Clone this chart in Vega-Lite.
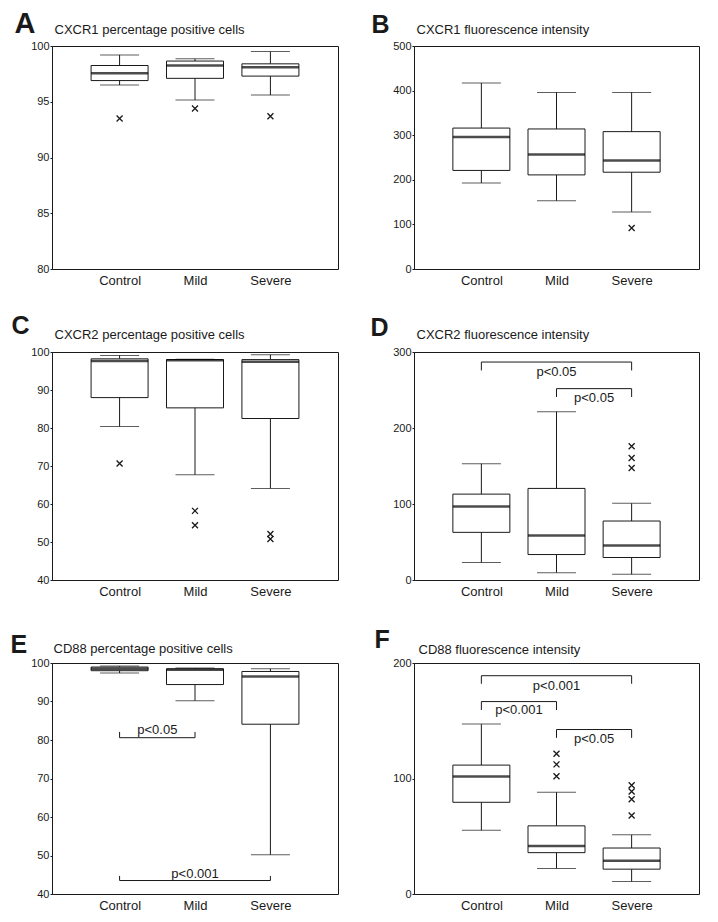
{
 "$schema": "https://vega.github.io/schema/vega-lite/v6.json",
 "background": "white",
 "padding": {"left": 9, "top": 8, "right": 5, "bottom": 5},
 "columns": 2,
 "spacing": {"row": 83, "column": 76},
 "bounds": "flush",
 "config": {
  "font": "Liberation Sans",
  "view": {"stroke": "#1a1a1a", "strokeWidth": 1},
  "axis": {"labelColor": "#1a1a1a", "titleColor": "#1a1a1a", "domainColor": "#1a1a1a", "tickColor": "#1a1a1a", "labelFont": "Liberation Sans", "titleFont": "Liberation Sans", "labelOverlap": false},
  "text": {"font": "Liberation Sans"}
 },
 "datasets": {
  "boxes": [
   {"panel":"A","group":"Control","lower":96.5,"q1":96.9,"median":97.55,"q3":98.25,"upper":99.2},
   {"panel":"A","group":"Mild","lower":95.15,"q1":97.1,"median":98.25,"q3":98.65,"upper":98.85},
   {"panel":"A","group":"Severe","lower":95.6,"q1":97.3,"median":98.1,"q3":98.4,"upper":99.5},
   {"panel":"B","group":"Control","lower":193,"q1":221,"median":296,"q3":316,"upper":417},
   {"panel":"B","group":"Mild","lower":153,"q1":211,"median":257,"q3":314,"upper":396},
   {"panel":"B","group":"Severe","lower":128,"q1":217,"median":243,"q3":308,"upper":396},
   {"panel":"C","group":"Control","lower":80.4,"q1":88.0,"median":97.6,"q3":98.2,"upper":99.1},
   {"panel":"C","group":"Mild","lower":67.7,"q1":85.3,"median":97.85,"q3":98.0,"upper":98.1},
   {"panel":"C","group":"Severe","lower":64.1,"q1":82.5,"median":97.45,"q3":98.0,"upper":99.3},
   {"panel":"D","group":"Control","lower":23,"q1":62.7,"median":96.7,"q3":113,"upper":153},
   {"panel":"D","group":"Mild","lower":9.7,"q1":33.5,"median":58.7,"q3":120.5,"upper":221.5},
   {"panel":"D","group":"Severe","lower":7.5,"q1":29.6,"median":45.4,"q3":77.6,"upper":101},
   {"panel":"E","group":"Control","lower":97.4,"q1":98.0,"median":98.5,"q3":98.95,"upper":99.2},
   {"panel":"E","group":"Mild","lower":90.2,"q1":94.4,"median":98.25,"q3":98.5,"upper":98.7},
   {"panel":"E","group":"Severe","lower":50.2,"q1":84.1,"median":96.5,"q3":97.8,"upper":98.5},
   {"panel":"F","group":"Control","lower":55.2,"q1":79.4,"median":101.7,"q3":111.6,"upper":147.1},
   {"panel":"F","group":"Mild","lower":22.1,"q1":35.8,"median":41.6,"q3":59,"upper":88.1},
   {"panel":"F","group":"Severe","lower":10.8,"q1":21.5,"median":28.8,"q3":39.8,"upper":51.2}
  ],
  "outliers": [
   {"panel":"A","group":"Control","value":93.5},
   {"panel":"A","group":"Mild","value":94.4},
   {"panel":"A","group":"Severe","value":93.7},
   {"panel":"B","group":"Severe","value":92},
   {"panel":"C","group":"Control","value":70.65},
   {"panel":"C","group":"Mild","value":58.2},
   {"panel":"C","group":"Mild","value":54.4},
   {"panel":"C","group":"Severe","value":52.1},
   {"panel":"C","group":"Severe","value":50.8},
   {"panel":"D","group":"Severe","value":176},
   {"panel":"D","group":"Severe","value":160.5},
   {"panel":"D","group":"Severe","value":147.3},
   {"panel":"F","group":"Mild","value":121.5},
   {"panel":"F","group":"Mild","value":112.2},
   {"panel":"F","group":"Mild","value":102},
   {"panel":"F","group":"Severe","value":94.2},
   {"panel":"F","group":"Severe","value":88.7},
   {"panel":"F","group":"Severe","value":82},
   {"panel":"F","group":"Severe","value":68}
  ],
  "brackets": [
   {"panel":"D","from":"Control","to":"Severe","line":286.8,"end":275.7,"label":"p<0.05","label_y":268},
   {"panel":"D","from":"Mild","to":"Severe","line":251.8,"end":240.8,"label":"p<0.05","label_y":234},
   {"panel":"E","from":"Control","to":"Mild","line":80.6,"end":82.1,"label":"p<0.05","label_y":81.6},
   {"panel":"E","from":"Control","to":"Severe","line":43.5,"end":44.7,"label":"p<0.001","label_y":44.2},
   {"panel":"F","from":"Control","to":"Severe","line":189,"end":182,"label":"p<0.001","label_y":176.7},
   {"panel":"F","from":"Control","to":"Mild","line":166.6,"end":159.3,"label":"p<0.001","label_y":155.8},
   {"panel":"F","from":"Mild","to":"Severe","line":142.4,"end":135.2,"label":"p<0.05","label_y":130.8}
  ]
 },
 "concat": [
  {
   "width": 286, "height": 223,
   "layer": [
    {
     "data": {"name": "boxes"},
     "transform": [{"filter": "datum.panel === 'A'"}, {"calculate": "indexof(['Control','Mild','Severe'], datum.group) + 1", "as": "xi"}],
     "encoding": {"x": {"field": "xi", "type": "quantitative", "scale": {"domain": [0.17, 3.83]}, "axis": {"title": "CXCR1 percentage positive cells", "titleX": 2, "titleY": -236, "titleAlign": "left", "titleAnchor": "start", "titleBaseline": "alphabetic", "titleFontSize": 13, "titleFontWeight": "normal", "values": [1, 2, 3], "labelExpr": "datum.value === 1 ? 'Control' : datum.value === 2 ? 'Mild' : 'Severe'", "ticks": false, "domain": false, "grid": false, "labelFontSize": 13, "labelPadding": 5}}},
     "layer": [
      {"mark": {"type": "rule", "color": "#1a1a1a", "strokeWidth": 1}, "encoding": {"y": {"field": "lower", "type": "quantitative", "scale": {"domain": [80, 100], "nice": false, "zero": false}, "axis": {"title": "A", "titleAngle": 0, "titleX": -38, "titleY": -14, "titleAlign": "left", "titleBaseline": "alphabetic", "titleFontSize": 29, "titleFontWeight": "bold", "values": [80, 85, 90, 95, 100], "tickCount": 5, "labelOverlap": false, "grid": false, "tickSize": 2, "labelPadding": 1, "labelFontSize": 11}}, "y2": {"field": "upper"}}},
      {"mark": {"type": "bar", "size": 57, "fill": "white", "stroke": "#1a1a1a", "strokeWidth": 1}, "encoding": {"y": {"field": "q1", "type": "quantitative", "scale": {"domain": [80, 100], "nice": false, "zero": false}}, "y2": {"field": "q3"}}},
      {"mark": {"type": "tick", "orient": "horizontal", "size": 39, "thickness": 1, "color": "#1a1a1a"}, "encoding": {"y": {"field": "lower", "type": "quantitative", "scale": {"domain": [80, 100], "nice": false, "zero": false}}}},
      {"mark": {"type": "tick", "orient": "horizontal", "size": 39, "thickness": 1, "color": "#1a1a1a"}, "encoding": {"y": {"field": "upper", "type": "quantitative", "scale": {"domain": [80, 100], "nice": false, "zero": false}}}},
      {"mark": {"type": "tick", "orient": "horizontal", "size": 57, "thickness": 2.5, "color": "#000000"}, "encoding": {"y": {"field": "median", "type": "quantitative", "scale": {"domain": [80, 100], "nice": false, "zero": false}}}}
     ]
    },
    {
     "data": {"name": "outliers"},
     "transform": [{"filter": "datum.panel === 'A'"}, {"calculate": "indexof(['Control','Mild','Severe'], datum.group) + 1", "as": "xi"}],
     "mark": {"type": "point", "shape": "M-1,-1L1,1M-1,1L1,-1", "size": 36, "filled": false, "color": "#1a1a1a", "strokeWidth": 1.3, "opacity": 1},
     "encoding": {"x": {"field": "xi", "type": "quantitative", "scale": {"domain": [0.17, 3.83]}}, "y": {"field": "value", "type": "quantitative", "scale": {"domain": [80, 100], "nice": false, "zero": false}}}
    }
   ]
  },
  {
   "width": 285, "height": 223,
   "layer": [
    {
     "data": {"name": "boxes"},
     "transform": [{"filter": "datum.panel === 'B'"}, {"calculate": "indexof(['Control','Mild','Severe'], datum.group) + 1", "as": "xi"}],
     "encoding": {"x": {"field": "xi", "type": "quantitative", "scale": {"domain": [0.17, 3.83]}, "axis": {"title": "CXCR1 fluorescence intensity", "titleX": 2, "titleY": -236, "titleAlign": "left", "titleAnchor": "start", "titleBaseline": "alphabetic", "titleFontSize": 13, "titleFontWeight": "normal", "values": [1, 2, 3], "labelExpr": "datum.value === 1 ? 'Control' : datum.value === 2 ? 'Mild' : 'Severe'", "ticks": false, "domain": false, "grid": false, "labelFontSize": 13, "labelPadding": 5}}},
     "layer": [
      {"mark": {"type": "rule", "color": "#1a1a1a", "strokeWidth": 1}, "encoding": {"y": {"field": "lower", "type": "quantitative", "scale": {"domain": [0, 500], "nice": false, "zero": false}, "axis": {"title": "B", "titleAngle": 0, "titleX": -43, "titleY": -14, "titleAlign": "left", "titleBaseline": "alphabetic", "titleFontSize": 25, "titleFontWeight": "bold", "values": [0, 100, 200, 300, 400, 500], "tickCount": 6, "labelOverlap": false, "grid": false, "tickSize": 2, "labelPadding": 1, "labelFontSize": 11}}, "y2": {"field": "upper"}}},
      {"mark": {"type": "bar", "size": 57, "fill": "white", "stroke": "#1a1a1a", "strokeWidth": 1}, "encoding": {"y": {"field": "q1", "type": "quantitative", "scale": {"domain": [0, 500], "nice": false, "zero": false}}, "y2": {"field": "q3"}}},
      {"mark": {"type": "tick", "orient": "horizontal", "size": 39, "thickness": 1, "color": "#1a1a1a"}, "encoding": {"y": {"field": "lower", "type": "quantitative", "scale": {"domain": [0, 500], "nice": false, "zero": false}}}},
      {"mark": {"type": "tick", "orient": "horizontal", "size": 39, "thickness": 1, "color": "#1a1a1a"}, "encoding": {"y": {"field": "upper", "type": "quantitative", "scale": {"domain": [0, 500], "nice": false, "zero": false}}}},
      {"mark": {"type": "tick", "orient": "horizontal", "size": 57, "thickness": 2.5, "color": "#000000"}, "encoding": {"y": {"field": "median", "type": "quantitative", "scale": {"domain": [0, 500], "nice": false, "zero": false}}}}
     ]
    },
    {
     "data": {"name": "outliers"},
     "transform": [{"filter": "datum.panel === 'B'"}, {"calculate": "indexof(['Control','Mild','Severe'], datum.group) + 1", "as": "xi"}],
     "mark": {"type": "point", "shape": "M-1,-1L1,1M-1,1L1,-1", "size": 36, "filled": false, "color": "#1a1a1a", "strokeWidth": 1.3, "opacity": 1},
     "encoding": {"x": {"field": "xi", "type": "quantitative", "scale": {"domain": [0.17, 3.83]}}, "y": {"field": "value", "type": "quantitative", "scale": {"domain": [0, 500], "nice": false, "zero": false}}}
    }
   ]
  },
  {
   "width": 286, "height": 228,
   "layer": [
    {
     "data": {"name": "boxes"},
     "transform": [{"filter": "datum.panel === 'C'"}, {"calculate": "indexof(['Control','Mild','Severe'], datum.group) + 1", "as": "xi"}],
     "encoding": {"x": {"field": "xi", "type": "quantitative", "scale": {"domain": [0.17, 3.83]}, "axis": {"title": "CXCR2 percentage positive cells", "titleX": 2, "titleY": -242, "titleAlign": "left", "titleAnchor": "start", "titleBaseline": "alphabetic", "titleFontSize": 13, "titleFontWeight": "normal", "values": [1, 2, 3], "labelExpr": "datum.value === 1 ? 'Control' : datum.value === 2 ? 'Mild' : 'Severe'", "ticks": false, "domain": false, "grid": false, "labelFontSize": 13, "labelPadding": 5}}},
     "layer": [
      {"mark": {"type": "rule", "color": "#1a1a1a", "strokeWidth": 1}, "encoding": {"y": {"field": "lower", "type": "quantitative", "scale": {"domain": [40, 100], "nice": false, "zero": false}, "axis": {"title": "C", "titleAngle": 0, "titleX": -41, "titleY": -19, "titleAlign": "left", "titleBaseline": "alphabetic", "titleFontSize": 25, "titleFontWeight": "bold", "values": [40, 50, 60, 70, 80, 90, 100], "tickCount": 7, "labelOverlap": false, "grid": false, "tickSize": 2, "labelPadding": 1, "labelFontSize": 11}}, "y2": {"field": "upper"}}},
      {"mark": {"type": "bar", "size": 57, "fill": "white", "stroke": "#1a1a1a", "strokeWidth": 1}, "encoding": {"y": {"field": "q1", "type": "quantitative", "scale": {"domain": [40, 100], "nice": false, "zero": false}}, "y2": {"field": "q3"}}},
      {"mark": {"type": "tick", "orient": "horizontal", "size": 39, "thickness": 1, "color": "#1a1a1a"}, "encoding": {"y": {"field": "lower", "type": "quantitative", "scale": {"domain": [40, 100], "nice": false, "zero": false}}}},
      {"mark": {"type": "tick", "orient": "horizontal", "size": 39, "thickness": 1, "color": "#1a1a1a"}, "encoding": {"y": {"field": "upper", "type": "quantitative", "scale": {"domain": [40, 100], "nice": false, "zero": false}}}},
      {"mark": {"type": "tick", "orient": "horizontal", "size": 57, "thickness": 2.5, "color": "#000000"}, "encoding": {"y": {"field": "median", "type": "quantitative", "scale": {"domain": [40, 100], "nice": false, "zero": false}}}}
     ]
    },
    {
     "data": {"name": "outliers"},
     "transform": [{"filter": "datum.panel === 'C'"}, {"calculate": "indexof(['Control','Mild','Severe'], datum.group) + 1", "as": "xi"}],
     "mark": {"type": "point", "shape": "M-1,-1L1,1M-1,1L1,-1", "size": 36, "filled": false, "color": "#1a1a1a", "strokeWidth": 1.3, "opacity": 1},
     "encoding": {"x": {"field": "xi", "type": "quantitative", "scale": {"domain": [0.17, 3.83]}}, "y": {"field": "value", "type": "quantitative", "scale": {"domain": [40, 100], "nice": false, "zero": false}}}
    }
   ]
  },
  {
   "width": 285, "height": 228,
   "layer": [
    {
     "data": {"name": "boxes"},
     "transform": [{"filter": "datum.panel === 'D'"}, {"calculate": "indexof(['Control','Mild','Severe'], datum.group) + 1", "as": "xi"}],
     "encoding": {"x": {"field": "xi", "type": "quantitative", "scale": {"domain": [0.17, 3.83]}, "axis": {"title": "CXCR2 fluorescence intensity", "titleX": 2, "titleY": -242, "titleAlign": "left", "titleAnchor": "start", "titleBaseline": "alphabetic", "titleFontSize": 13, "titleFontWeight": "normal", "values": [1, 2, 3], "labelExpr": "datum.value === 1 ? 'Control' : datum.value === 2 ? 'Mild' : 'Severe'", "ticks": false, "domain": false, "grid": false, "labelFontSize": 13, "labelPadding": 5}}},
     "layer": [
      {"mark": {"type": "rule", "color": "#1a1a1a", "strokeWidth": 1}, "encoding": {"y": {"field": "lower", "type": "quantitative", "scale": {"domain": [0, 300], "nice": false, "zero": false}, "axis": {"title": "D", "titleAngle": 0, "titleX": -44, "titleY": -17, "titleAlign": "left", "titleBaseline": "alphabetic", "titleFontSize": 25, "titleFontWeight": "bold", "values": [0, 100, 200, 300], "tickCount": 4, "labelOverlap": false, "grid": false, "tickSize": 2, "labelPadding": 1, "labelFontSize": 11}}, "y2": {"field": "upper"}}},
      {"mark": {"type": "bar", "size": 57, "fill": "white", "stroke": "#1a1a1a", "strokeWidth": 1}, "encoding": {"y": {"field": "q1", "type": "quantitative", "scale": {"domain": [0, 300], "nice": false, "zero": false}}, "y2": {"field": "q3"}}},
      {"mark": {"type": "tick", "orient": "horizontal", "size": 39, "thickness": 1, "color": "#1a1a1a"}, "encoding": {"y": {"field": "lower", "type": "quantitative", "scale": {"domain": [0, 300], "nice": false, "zero": false}}}},
      {"mark": {"type": "tick", "orient": "horizontal", "size": 39, "thickness": 1, "color": "#1a1a1a"}, "encoding": {"y": {"field": "upper", "type": "quantitative", "scale": {"domain": [0, 300], "nice": false, "zero": false}}}},
      {"mark": {"type": "tick", "orient": "horizontal", "size": 57, "thickness": 2.5, "color": "#000000"}, "encoding": {"y": {"field": "median", "type": "quantitative", "scale": {"domain": [0, 300], "nice": false, "zero": false}}}}
     ]
    },
    {
     "data": {"name": "outliers"},
     "transform": [{"filter": "datum.panel === 'D'"}, {"calculate": "indexof(['Control','Mild','Severe'], datum.group) + 1", "as": "xi"}],
     "mark": {"type": "point", "shape": "M-1,-1L1,1M-1,1L1,-1", "size": 36, "filled": false, "color": "#1a1a1a", "strokeWidth": 1.3, "opacity": 1},
     "encoding": {"x": {"field": "xi", "type": "quantitative", "scale": {"domain": [0.17, 3.83]}}, "y": {"field": "value", "type": "quantitative", "scale": {"domain": [0, 300], "nice": false, "zero": false}}}
    },
    {
     "data": {"name": "brackets"},
     "transform": [{"filter": "datum.panel === 'D'"}, {"calculate": "indexof(['Control','Mild','Severe'], datum.from) + 1", "as": "xf"}, {"calculate": "indexof(['Control','Mild','Severe'], datum.to) + 1", "as": "xt"}, {"calculate": "(datum.xf + datum.xt) / 2", "as": "xm"}],
     "layer": [
      {"mark": {"type": "rule", "color": "#1a1a1a", "strokeWidth": 1}, "encoding": {"x": {"field": "xf", "type": "quantitative", "scale": {"domain": [0.17, 3.83]}}, "x2": {"field": "xt"}, "y": {"field": "line", "type": "quantitative", "scale": {"domain": [0, 300], "nice": false, "zero": false}}}},
      {"mark": {"type": "rule", "color": "#1a1a1a", "strokeWidth": 1}, "encoding": {"x": {"field": "xf", "type": "quantitative", "scale": {"domain": [0.17, 3.83]}}, "y": {"field": "line", "type": "quantitative", "scale": {"domain": [0, 300], "nice": false, "zero": false}}, "y2": {"field": "end"}}},
      {"mark": {"type": "rule", "color": "#1a1a1a", "strokeWidth": 1}, "encoding": {"x": {"field": "xt", "type": "quantitative", "scale": {"domain": [0.17, 3.83]}}, "y": {"field": "line", "type": "quantitative", "scale": {"domain": [0, 300], "nice": false, "zero": false}}, "y2": {"field": "end"}}},
      {"mark": {"type": "text", "fontSize": 13, "baseline": "alphabetic", "align": "center", "color": "#1a1a1a"}, "encoding": {"x": {"field": "xm", "type": "quantitative", "scale": {"domain": [0.17, 3.83]}}, "y": {"field": "label_y", "type": "quantitative", "scale": {"domain": [0, 300], "nice": false, "zero": false}}, "text": {"field": "label"}}}
     ]
    }
   ]
  },
  {
   "width": 286, "height": 231,
   "layer": [
    {
     "data": {"name": "boxes"},
     "transform": [{"filter": "datum.panel === 'E'"}, {"calculate": "indexof(['Control','Mild','Severe'], datum.group) + 1", "as": "xi"}],
     "encoding": {"x": {"field": "xi", "type": "quantitative", "scale": {"domain": [0.17, 3.83]}, "axis": {"title": "CD88 percentage positive cells", "titleX": 1, "titleY": -242, "titleAlign": "left", "titleAnchor": "start", "titleBaseline": "alphabetic", "titleFontSize": 13, "titleFontWeight": "normal", "values": [1, 2, 3], "labelExpr": "datum.value === 1 ? 'Control' : datum.value === 2 ? 'Mild' : 'Severe'", "ticks": false, "domain": false, "grid": false, "labelFontSize": 13, "labelPadding": 5}}},
     "layer": [
      {"mark": {"type": "rule", "color": "#1a1a1a", "strokeWidth": 1}, "encoding": {"y": {"field": "lower", "type": "quantitative", "scale": {"domain": [40, 100], "nice": false, "zero": false}, "axis": {"title": "E", "titleAngle": 0, "titleX": -42, "titleY": -11, "titleAlign": "left", "titleBaseline": "alphabetic", "titleFontSize": 25, "titleFontWeight": "bold", "values": [40, 50, 60, 70, 80, 90, 100], "tickCount": 7, "labelOverlap": false, "grid": false, "tickSize": 2, "labelPadding": 1, "labelFontSize": 11}}, "y2": {"field": "upper"}}},
      {"mark": {"type": "bar", "size": 57, "fill": "white", "stroke": "#1a1a1a", "strokeWidth": 1}, "encoding": {"y": {"field": "q1", "type": "quantitative", "scale": {"domain": [40, 100], "nice": false, "zero": false}}, "y2": {"field": "q3"}}},
      {"mark": {"type": "tick", "orient": "horizontal", "size": 39, "thickness": 1, "color": "#1a1a1a"}, "encoding": {"y": {"field": "lower", "type": "quantitative", "scale": {"domain": [40, 100], "nice": false, "zero": false}}}},
      {"mark": {"type": "tick", "orient": "horizontal", "size": 39, "thickness": 1, "color": "#1a1a1a"}, "encoding": {"y": {"field": "upper", "type": "quantitative", "scale": {"domain": [40, 100], "nice": false, "zero": false}}}},
      {"mark": {"type": "tick", "orient": "horizontal", "size": 57, "thickness": 2.5, "color": "#000000"}, "encoding": {"y": {"field": "median", "type": "quantitative", "scale": {"domain": [40, 100], "nice": false, "zero": false}}}}
     ]
    },
    {
     "data": {"name": "brackets"},
     "transform": [{"filter": "datum.panel === 'E'"}, {"calculate": "indexof(['Control','Mild','Severe'], datum.from) + 1", "as": "xf"}, {"calculate": "indexof(['Control','Mild','Severe'], datum.to) + 1", "as": "xt"}, {"calculate": "(datum.xf + datum.xt) / 2", "as": "xm"}],
     "layer": [
      {"mark": {"type": "rule", "color": "#1a1a1a", "strokeWidth": 1}, "encoding": {"x": {"field": "xf", "type": "quantitative", "scale": {"domain": [0.17, 3.83]}}, "x2": {"field": "xt"}, "y": {"field": "line", "type": "quantitative", "scale": {"domain": [40, 100], "nice": false, "zero": false}}}},
      {"mark": {"type": "rule", "color": "#1a1a1a", "strokeWidth": 1}, "encoding": {"x": {"field": "xf", "type": "quantitative", "scale": {"domain": [0.17, 3.83]}}, "y": {"field": "line", "type": "quantitative", "scale": {"domain": [40, 100], "nice": false, "zero": false}}, "y2": {"field": "end"}}},
      {"mark": {"type": "rule", "color": "#1a1a1a", "strokeWidth": 1}, "encoding": {"x": {"field": "xt", "type": "quantitative", "scale": {"domain": [0.17, 3.83]}}, "y": {"field": "line", "type": "quantitative", "scale": {"domain": [40, 100], "nice": false, "zero": false}}, "y2": {"field": "end"}}},
      {"mark": {"type": "text", "fontSize": 13, "baseline": "alphabetic", "align": "center", "color": "#1a1a1a"}, "encoding": {"x": {"field": "xm", "type": "quantitative", "scale": {"domain": [0.17, 3.83]}}, "y": {"field": "label_y", "type": "quantitative", "scale": {"domain": [40, 100], "nice": false, "zero": false}}, "text": {"field": "label"}}}
     ]
    }
   ]
  },
  {
   "width": 285, "height": 231,
   "layer": [
    {
     "data": {"name": "boxes"},
     "transform": [{"filter": "datum.panel === 'F'"}, {"calculate": "indexof(['Control','Mild','Severe'], datum.group) + 1", "as": "xi"}],
     "encoding": {"x": {"field": "xi", "type": "quantitative", "scale": {"domain": [0.17, 3.83]}, "axis": {"title": "CD88 fluorescence intensity", "titleX": 4, "titleY": -241, "titleAlign": "left", "titleAnchor": "start", "titleBaseline": "alphabetic", "titleFontSize": 13, "titleFontWeight": "normal", "values": [1, 2, 3], "labelExpr": "datum.value === 1 ? 'Control' : datum.value === 2 ? 'Mild' : 'Severe'", "ticks": false, "domain": false, "grid": false, "labelFontSize": 13, "labelPadding": 5}}},
     "layer": [
      {"mark": {"type": "rule", "color": "#1a1a1a", "strokeWidth": 1}, "encoding": {"y": {"field": "lower", "type": "quantitative", "scale": {"domain": [0, 200], "nice": false, "zero": false}, "axis": {"title": "F", "titleAngle": 0, "titleX": -40, "titleY": -16, "titleAlign": "left", "titleBaseline": "alphabetic", "titleFontSize": 25, "titleFontWeight": "bold", "values": [0, 100, 200], "tickCount": 3, "labelOverlap": false, "grid": false, "tickSize": 2, "labelPadding": 1, "labelFontSize": 11}}, "y2": {"field": "upper"}}},
      {"mark": {"type": "bar", "size": 57, "fill": "white", "stroke": "#1a1a1a", "strokeWidth": 1}, "encoding": {"y": {"field": "q1", "type": "quantitative", "scale": {"domain": [0, 200], "nice": false, "zero": false}}, "y2": {"field": "q3"}}},
      {"mark": {"type": "tick", "orient": "horizontal", "size": 39, "thickness": 1, "color": "#1a1a1a"}, "encoding": {"y": {"field": "lower", "type": "quantitative", "scale": {"domain": [0, 200], "nice": false, "zero": false}}}},
      {"mark": {"type": "tick", "orient": "horizontal", "size": 39, "thickness": 1, "color": "#1a1a1a"}, "encoding": {"y": {"field": "upper", "type": "quantitative", "scale": {"domain": [0, 200], "nice": false, "zero": false}}}},
      {"mark": {"type": "tick", "orient": "horizontal", "size": 57, "thickness": 2.5, "color": "#000000"}, "encoding": {"y": {"field": "median", "type": "quantitative", "scale": {"domain": [0, 200], "nice": false, "zero": false}}}}
     ]
    },
    {
     "data": {"name": "outliers"},
     "transform": [{"filter": "datum.panel === 'F'"}, {"calculate": "indexof(['Control','Mild','Severe'], datum.group) + 1", "as": "xi"}],
     "mark": {"type": "point", "shape": "M-1,-1L1,1M-1,1L1,-1", "size": 36, "filled": false, "color": "#1a1a1a", "strokeWidth": 1.3, "opacity": 1},
     "encoding": {"x": {"field": "xi", "type": "quantitative", "scale": {"domain": [0.17, 3.83]}}, "y": {"field": "value", "type": "quantitative", "scale": {"domain": [0, 200], "nice": false, "zero": false}}}
    },
    {
     "data": {"name": "brackets"},
     "transform": [{"filter": "datum.panel === 'F'"}, {"calculate": "indexof(['Control','Mild','Severe'], datum.from) + 1", "as": "xf"}, {"calculate": "indexof(['Control','Mild','Severe'], datum.to) + 1", "as": "xt"}, {"calculate": "(datum.xf + datum.xt) / 2", "as": "xm"}],
     "layer": [
      {"mark": {"type": "rule", "color": "#1a1a1a", "strokeWidth": 1}, "encoding": {"x": {"field": "xf", "type": "quantitative", "scale": {"domain": [0.17, 3.83]}}, "x2": {"field": "xt"}, "y": {"field": "line", "type": "quantitative", "scale": {"domain": [0, 200], "nice": false, "zero": false}}}},
      {"mark": {"type": "rule", "color": "#1a1a1a", "strokeWidth": 1}, "encoding": {"x": {"field": "xf", "type": "quantitative", "scale": {"domain": [0.17, 3.83]}}, "y": {"field": "line", "type": "quantitative", "scale": {"domain": [0, 200], "nice": false, "zero": false}}, "y2": {"field": "end"}}},
      {"mark": {"type": "rule", "color": "#1a1a1a", "strokeWidth": 1}, "encoding": {"x": {"field": "xt", "type": "quantitative", "scale": {"domain": [0.17, 3.83]}}, "y": {"field": "line", "type": "quantitative", "scale": {"domain": [0, 200], "nice": false, "zero": false}}, "y2": {"field": "end"}}},
      {"mark": {"type": "text", "fontSize": 13, "baseline": "alphabetic", "align": "center", "color": "#1a1a1a"}, "encoding": {"x": {"field": "xm", "type": "quantitative", "scale": {"domain": [0.17, 3.83]}}, "y": {"field": "label_y", "type": "quantitative", "scale": {"domain": [0, 200], "nice": false, "zero": false}}, "text": {"field": "label"}}}
     ]
    }
   ]
  }
 ]
}
